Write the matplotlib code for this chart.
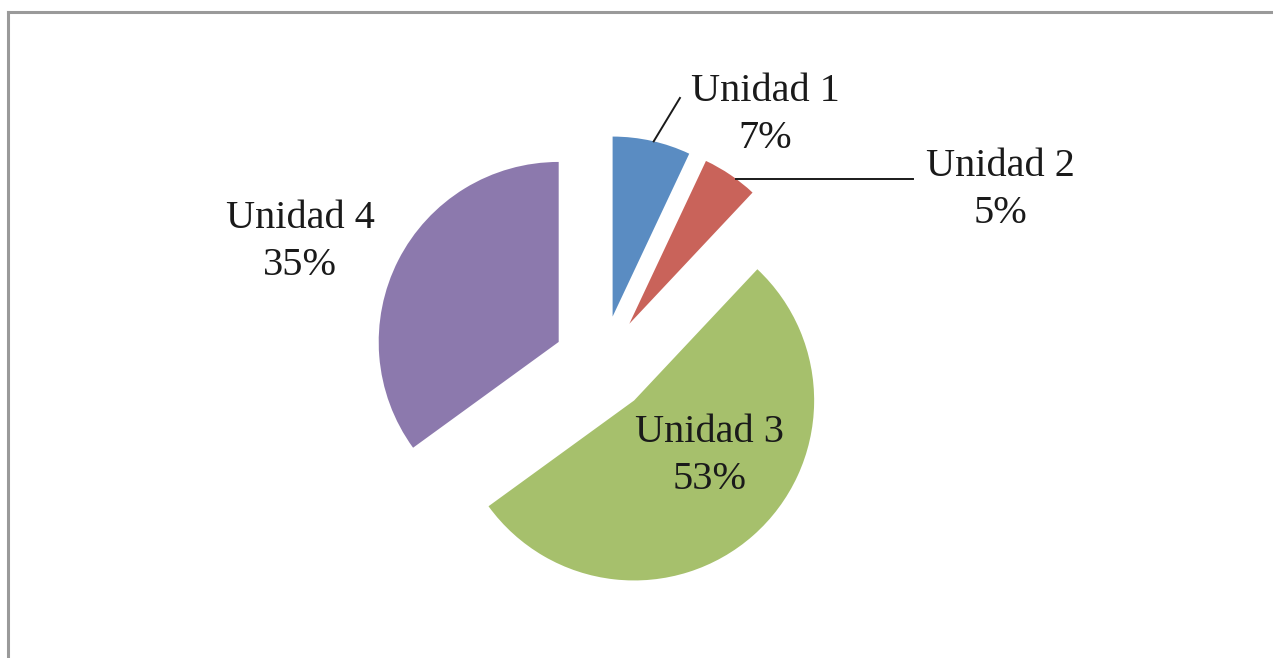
import numpy as np
import matplotlib
matplotlib.use("Agg")
import matplotlib.pyplot as plt
from matplotlib.lines import Line2D

# ---- data ----
categories = ["Unidad 1", "Unidad 2", "Unidad 3", "Unidad 4"]
values = [7, 5, 53, 35]
colors = ["#5A8CC2", "#C9635A", "#A6C06C", "#8C79AD"]

# ---- layout ----
W, H = 1273, 658
px_per_unit = 180.0
cx, cy = 602.0, 364.0      # pie centre in pixels (from top-left)
explode_frac = 0.27

fig = plt.figure(figsize=(W / 100, H / 100), dpi=100)
ax = fig.add_axes([0, 0, 1, 1])

wedges, _ = ax.pie(values, colors=colors, startangle=90, counterclock=False,
                   explode=[explode_frac] * len(values), radius=1.0,
                   wedgeprops=dict(linewidth=0))

ax.set_xlim(-cx / px_per_unit, (W - cx) / px_per_unit)
ax.set_ylim(-(H - cy) / px_per_unit, cy / px_per_unit)
ax.set_aspect("auto")
ax.axis("off")

font = dict(family=["Liberation Serif", "DejaVu Serif"], fontsize=29, color="#1a1a1a")

label_pos = {
    "Unidad 1": (0.906, 1.383),
    "Unidad 2": (2.211, 0.967),
    "Unidad 3": (0.600, -0.511),
    "Unidad 4": (-1.678, 0.678),
}
leader_end = {
    "Unidad 1": (0.433, 1.478),
    "Unidad 2": (1.728, 1.039),
}
leader_angle_offset = {"Unidad 1": -0.6, "Unidad 2": -2.0}

total = sum(values)
for w, cat, v in zip(wedges, categories, values):
    pct = f"{round(100 * v / total)}%"
    x, y = label_pos[cat]
    ax.text(x, y, f"{cat}\n{pct}", ha="center", va="center",
            linespacing=1.38, **font)
    if cat in leader_end:
        mid = np.deg2rad((w.theta1 + w.theta2) / 2 + leader_angle_offset[cat])
        ox, oy = w.center
        sx, sy = ox + w.r * np.cos(mid), oy + w.r * np.sin(mid)
        ex, ey = leader_end[cat]
        if cat == "Unidad 2":
            ey = sy
        ax.plot([sx, ex], [sy, ey], color="#1a1a1a", lw=1.4)

# outer frame (gray border as in the source image)
fig.add_artist(Line2D([8 / W, 1], [1 - 12 / H, 1 - 12 / H], color="#9a9a9a", lw=2.2,
                      transform=fig.transFigure))
fig.add_artist(Line2D([8 / W, 8 / W], [0, 1 - 12 / H], color="#9a9a9a", lw=2.2,
                      transform=fig.transFigure))

fig.savefig("out.png", dpi=100, facecolor="white")
